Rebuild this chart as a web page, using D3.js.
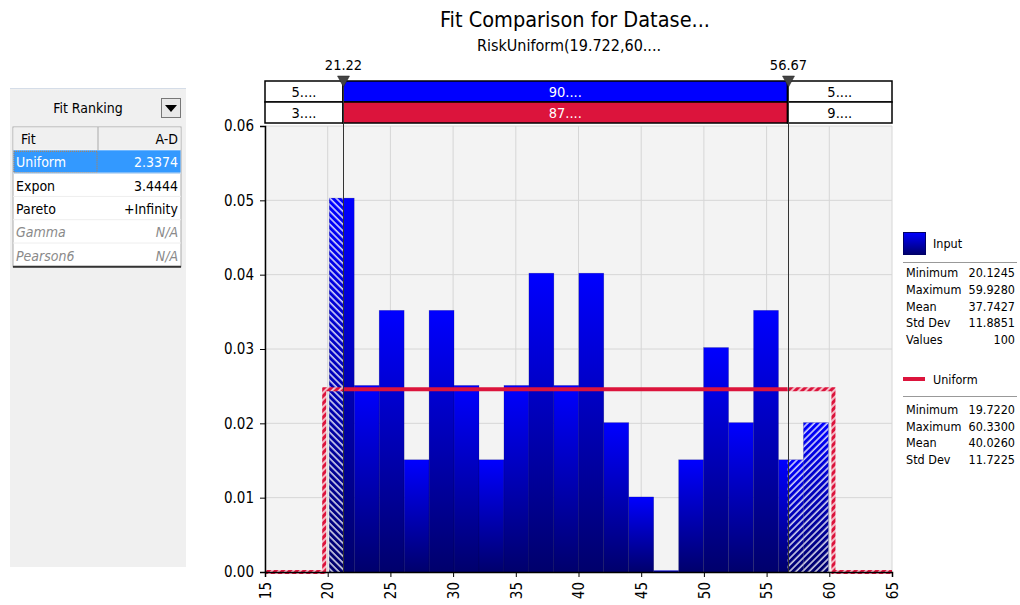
<!DOCTYPE html>
<html>
<head>
<meta charset="utf-8">
<script src="https://cdn.jsdelivr.net/npm/d3@7"></script>
<style>
  body { margin: 0; background: #fff; }
  svg text { font-family: "DejaVu Sans Condensed", "DejaVu Sans", Verdana, sans-serif; font-stretch: condensed; }
</style>
</head>
<body>
<div id="chart"></div>
<script>
// histogram of the input data (density per bin)
var binMin = 20.1245;
var binMax = 59.928;
var density = [0.0503, 0.0251, 0.0352, 0.0151, 0.0352, 0.0251, 0.0151, 0.0251, 0.0402, 0.0251,
               0.0402, 0.0201, 0.0101, 0.0002, 0.0151, 0.0302, 0.0201, 0.0352, 0.0151, 0.0201];

// fitted uniform
var fitMin = 19.722;
var fitMax = 60.33;
var fitDensity = 0.0246;

// delimiters + top bar
var delimiters = [21.22, 56.67];
var inputRow = ["5....", "90....", "5...."];
var fitRow = ["3....", "87....", "9...."];

var xTicks = [15, 20, 25, 30, 35, 40, 45, 50, 55, 60, 65];
var yTicks = [0, 0.01, 0.02, 0.03, 0.04, 0.05, 0.06];

// ranking panel
var fitNames = ["Uniform", "Expon", "Pareto", "Gamma", "Pearson6"];
var fitScores = ["2.3374", "3.4444", "+Infinity", "N/A", "N/A"];

// legend stats
var statLabels = ["Minimum", "Maximum", "Mean", "Std Dev", "Values"];
var inputStats = ["20.1245", "59.9280", "37.7427", "11.8851", "100"];
var uniformStats = ["19.7220", "60.3300", "40.0260", "11.7225"];

var svgWidth = 1020, svgHeight = 605;
var plot = { left: 265, right: 892, top: 126, bottom: 572 };

var svg = d3.select("#chart").append("svg")
  .attr("width", svgWidth)
  .attr("height", svgHeight);

var defs = svg.append("defs");

var grad = defs.append("linearGradient").attr("id", "barGrad")
  .attr("x1", 0).attr("y1", 0).attr("x2", 0).attr("y2", 1);
grad.append("stop").attr("offset", "0%").attr("stop-color", "#0000ff");
grad.append("stop").attr("offset", "100%").attr("stop-color", "#00006c");

function hatch(id, angle, bg, lineColor, size, sw) {
  var p = defs.append("pattern").attr("id", id)
    .attr("patternUnits", "userSpaceOnUse")
    .attr("width", size).attr("height", size)
    .attr("patternTransform", "rotate(" + angle + ")");
  if (bg) p.append("rect").attr("width", size).attr("height", size).attr("fill", bg);
  p.append("line").attr("x1", 1).attr("y1", 0).attr("x2", 1).attr("y2", size)
    .attr("stroke", lineColor).attr("stroke-width", sw);
}
hatch("hatchL", -45, null, "#fff", 4.6, 1.3);
hatch("hatchR", 45, null, "#fff", 4.6, 1.3);
hatch("redHatch", 45, "#dc143c", "#fff", 5, 1.4);

var x = d3.scaleLinear().domain([15, 65]).range([plot.left, plot.right]);
var y = d3.scaleLinear().domain([0, 0.06]).range([plot.bottom, plot.top]);

defs.append("clipPath").attr("id", "clipL").append("rect")
  .attr("x", x(15)).attr("y", plot.top).attr("width", x(delimiters[0]) - x(15)).attr("height", plot.bottom - plot.top);
defs.append("clipPath").attr("id", "clipR").append("rect")
  .attr("x", x(delimiters[1])).attr("y", plot.top).attr("width", x(65) - x(delimiters[1])).attr("height", plot.bottom - plot.top);

// Titles
svg.append("text").attr("x", 575).attr("y", 27).attr("text-anchor", "middle")
  .attr("font-size", 21.5).attr("fill", "#000").text("Fit Comparison for Datase...");
svg.append("text").attr("x", 569).attr("y", 51).attr("text-anchor", "middle")
  .attr("font-size", 16).attr("fill", "#000").text("RiskUniform(19.722,60....");

// plot background + grid
svg.append("rect").attr("x", plot.left).attr("y", plot.top)
  .attr("width", plot.right - plot.left).attr("height", plot.bottom - plot.top)
  .attr("fill", "#f3f3f3");

svg.append("g").selectAll("line").data(xTicks).enter().append("line")
  .attr("x1", d => x(d)).attr("x2", d => x(d))
  .attr("y1", plot.top).attr("y2", plot.bottom)
  .attr("stroke", "#d6d6d6").attr("stroke-width", 1);
svg.append("g").selectAll("line").data(yTicks).enter().append("line")
  .attr("x1", plot.left).attr("x2", plot.right)
  .attr("y1", d => y(d)).attr("y2", d => y(d))
  .attr("stroke", "#d6d6d6").attr("stroke-width", 1);

// bars
var binW = (binMax - binMin) / density.length;
var bins = density.map((d, i) => ({ x0: binMin + i * binW, x1: binMin + (i + 1) * binW, d: d }));

function drawBars(g, fill) {
  g.selectAll("rect").data(bins).enter().append("rect")
    .attr("x", b => x(b.x0))
    .attr("width", b => x(b.x1) - x(b.x0))
    .attr("y", b => y(b.d))
    .attr("height", b => y(0) - y(b.d))
    .attr("fill", fill);
}
var barG = svg.append("g");
drawBars(barG, "url(#barGrad)");
barG.selectAll("rect").attr("stroke", "rgba(0,0,40,0.25)").attr("stroke-width", 0.6);
drawBars(svg.append("g").attr("clip-path", "url(#clipL)"), "url(#hatchL)");
drawBars(svg.append("g").attr("clip-path", "url(#clipR)"), "url(#hatchR)");

// fitted uniform curve
var leftTail = [[15, 0], [fitMin, 0], [fitMin, fitDensity], [delimiters[0], fitDensity]];
var rightTail = [[delimiters[1], fitDensity], [fitMax, fitDensity], [fitMax, 0], [65, 0]];
var mid = [[delimiters[0], fitDensity], [delimiters[1], fitDensity]];
var line = d3.line().x(d => x(d[0])).y(d => y(d[1]));

[leftTail, rightTail].forEach(function (pts) {
  svg.append("path").attr("d", line(pts)).attr("fill", "none")
    .attr("stroke", "url(#redHatch)").attr("stroke-width", 4);
});
svg.append("path").attr("d", line(mid)).attr("fill", "none")
  .attr("stroke", "#dc143c").attr("stroke-width", 4);

// axes
var yAxis = svg.append("g").attr("transform", `translate(${plot.left},0)`)
  .call(d3.axisLeft(y).tickValues(yTicks).tickFormat(d3.format(".2f")).tickSize(5).tickPadding(6));
var xAxis = svg.append("g").attr("transform", `translate(0,${plot.bottom})`)
  .call(d3.axisBottom(x).tickValues(xTicks).tickSize(5));
[xAxis, yAxis].forEach(function (a) {
  a.select(".domain").attr("stroke", "#000").attr("stroke-width", 1.5);
  a.selectAll(".tick line").attr("stroke", "#000");
  a.selectAll("text").attr("font-size", 15).attr("fill", "#000")
    .attr("font-family", null);
});
xAxis.selectAll(".tick text")
  .attr("transform", "rotate(-90)")
  .attr("x", -10).attr("y", 0).attr("dy", "0.35em")
  .attr("text-anchor", "end");

// delimiter bar
var barTop = 81, rowH = 21;
var cols = [15, delimiters[0], delimiters[1], 65];
[inputRow, fitRow].forEach(function (row, r) {
  var ry = barTop + r * rowH;
  row.forEach(function (label, c) {
    var midCell = c === 1;
    var fill = midCell ? (r === 0 ? "#0000ff" : "#dc143c") : "#fff";
    svg.append("rect").attr("x", x(cols[c])).attr("y", ry)
      .attr("width", x(cols[c + 1]) - x(cols[c])).attr("height", rowH)
      .attr("fill", fill).attr("stroke", "#000").attr("stroke-width", 1.5);
    svg.append("text").attr("x", (x(cols[c]) + x(cols[c + 1])) / 2).attr("y", ry + 16)
      .attr("text-anchor", "middle").attr("font-size", 14.5)
      .attr("fill", midCell ? "#fff" : "#000").text(label);
  });
});

delimiters.forEach(function (v) {
  var px = Math.round(x(v)) + 0.5;
  svg.append("line").attr("x1", px).attr("x2", px).attr("y1", barTop).attr("y2", plot.bottom)
    .attr("stroke", "#333").attr("stroke-width", 1);
  svg.append("path").attr("d", `M${px - 6},${barTop - 5} L${px + 6},${barTop - 5} L${px},${barTop + 6} Z`)
    .attr("fill", "#444").attr("stroke", "#222").attr("stroke-width", 0.5);
  svg.append("text").attr("x", px).attr("y", 70).attr("text-anchor", "middle")
    .attr("font-size", 14.5).attr("fill", "#000").text(v.toFixed(2));
});

// legend
var lg = svg.append("g").attr("font-size", 12.5);
lg.append("rect").attr("x", 903.5).attr("y", 232.5).attr("width", 22).attr("height", 22)
  .attr("fill", "url(#barGrad)").attr("stroke", "#000066");
lg.append("text").attr("x", 933).attr("y", 248).attr("fill", "#000").text("Input");
lg.append("line").attr("x1", 903).attr("x2", 1017).attr("y1", 262.5).attr("y2", 262.5).attr("stroke", "#999");
statLabels.forEach(function (s, i) {
  var ty = 277 + i * 16.8;
  lg.append("text").attr("x", 906).attr("y", ty).attr("fill", "#000").text(s);
  lg.append("text").attr("x", 1015).attr("y", ty).attr("text-anchor", "end").attr("fill", "#000").text(inputStats[i]);
});
lg.append("line").attr("x1", 903).attr("x2", 925).attr("y1", 379).attr("y2", 379)
  .attr("stroke", "#dc143c").attr("stroke-width", 4);
lg.append("text").attr("x", 933).attr("y", 384).attr("fill", "#000").text("Uniform");
lg.append("line").attr("x1", 903).attr("x2", 1017).attr("y1", 396.5).attr("y2", 396.5).attr("stroke", "#999");
uniformStats.forEach(function (s, i) {
  var ty = 414 + i * 16.5;
  lg.append("text").attr("x", 906).attr("y", ty).attr("fill", "#000").text(statLabels[i]);
  lg.append("text").attr("x", 1015).attr("y", ty).attr("text-anchor", "end").attr("fill", "#000").text(s);
});

// Fit Ranking panel
var panel = svg.append("g").attr("font-size", 14);
panel.append("rect").attr("x", 10).attr("y", 88).attr("width", 176).attr("height", 479).attr("fill", "#f0f0f0");
panel.append("line").attr("x1", 10).attr("x2", 186).attr("y1", 88.5).attr("y2", 88.5).attr("stroke", "#d5dde8");
panel.append("text").attr("x", 88).attr("y", 113).attr("text-anchor", "middle").attr("fill", "#000").text("Fit Ranking");
panel.append("rect").attr("x", 161.5).attr("y", 98.5).attr("width", 19).attr("height", 19)
  .attr("fill", "#e8e8e8").attr("stroke", "#777");
panel.append("path").attr("d", "M165,105 L177,105 L171,112 Z").attr("fill", "#000");

var tX0 = 13, tX1 = 181, tDiv = 98, rowTop = 127, rH = 23.3;
panel.append("rect").attr("x", tX0).attr("y", rowTop).attr("width", tX1 - tX0).attr("height", rH * 6)
  .attr("fill", "#fff").attr("stroke", "#aaa");
panel.append("rect").attr("x", tX0 + 0.5).attr("y", rowTop + 0.5).attr("width", tX1 - tX0 - 1).attr("height", rH - 1)
  .attr("fill", "#f0f0f0");
panel.append("line").attr("x1", tDiv).attr("x2", tDiv).attr("y1", rowTop).attr("y2", rowTop + rH).attr("stroke", "#aaa");
panel.append("text").attr("x", 21).attr("y", rowTop + 17).attr("fill", "#000").text("Fit");
panel.append("text").attr("x", 178).attr("y", rowTop + 17).attr("text-anchor", "end").attr("fill", "#000").text("A-D");

fitNames.forEach(function (n, i) {
  var ry = rowTop + rH * (i + 1);
  var sel = i === 0, na = fitScores[i] === "N/A";
  if (sel) {
    panel.append("rect").attr("x", tX0 + 0.5).attr("y", ry).attr("width", tX1 - tX0 - 1).attr("height", rH)
      .attr("fill", "#3399ff");
    panel.append("rect").attr("x", tX0 + 1).attr("y", ry + 1).attr("width", tDiv - tX0 - 2).attr("height", rH - 2)
      .attr("fill", "none").attr("stroke", "#c08040").attr("stroke-dasharray", "1,1");
  }
  panel.append("line").attr("x1", tX0).attr("x2", tX1).attr("y1", ry + rH - 0.5).attr("y2", ry + rH - 0.5)
    .attr("stroke", "#eee");
  var col = sel ? "#fff" : (na ? "#8a8a8a" : "#000");
  panel.append("text").attr("x", 16).attr("y", ry + 17).attr("fill", col)
    .attr("font-style", na ? "italic" : "normal").text(n);
  panel.append("text").attr("x", 178).attr("y", ry + 17).attr("text-anchor", "end").attr("fill", col)
    .attr("font-style", na ? "italic" : "normal").text(fitScores[i]);
});
panel.append("line").attr("x1", tX0).attr("x2", tX1).attr("y1", rowTop + rH * 6).attr("y2", rowTop + rH * 6)
  .attr("stroke", "#333").attr("stroke-width", 2);
</script>
</body>
</html>
